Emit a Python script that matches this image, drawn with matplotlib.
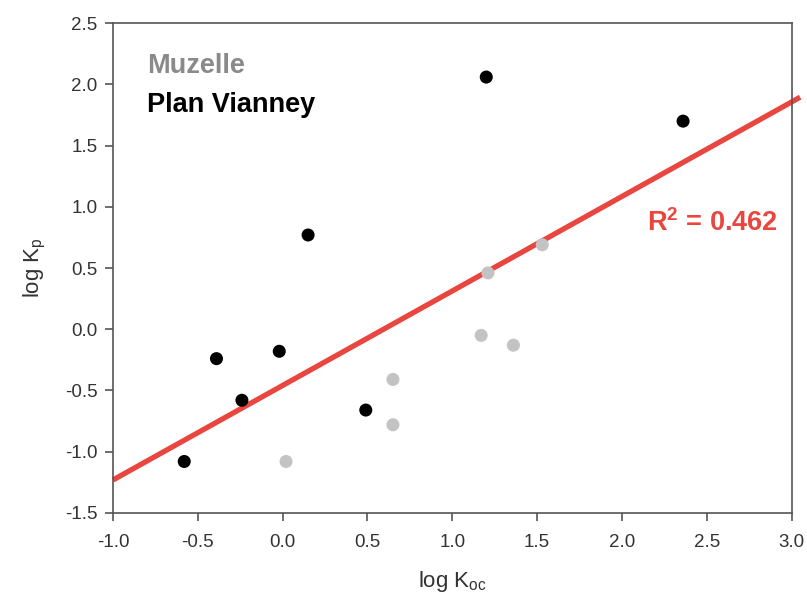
import numpy as np
import matplotlib.pyplot as plt

plt.rcParams['font.family'] = ['Liberation Sans', 'DejaVu Sans']

# Plan Vianney (black)
pv_koc = [-0.58, -0.39, -0.24, -0.02, 0.15, 0.49, 1.20, 2.36]
pv_kp = [-1.08, -0.24, -0.58, -0.18, 0.77, -0.66, 2.06, 1.70]

# Muzelle (grey)
mu_koc = [0.02, 0.65, 0.65, 1.17, 1.21, 1.36, 1.53]
mu_kp = [-1.08, -0.41, -0.78, -0.05, 0.46, -0.13, 0.69]

# regression line
slope, intercept = 0.772, -0.459
r2 = 0.462

xticks = [-1.0, -0.5, 0.0, 0.5, 1.0, 1.5, 2.0, 2.5, 3.0]
yticks = [-1.5, -1.0, -0.5, 0.0, 0.5, 1.0, 1.5, 2.0, 2.5]

fig = plt.figure(figsize=(8.07, 5.95), dpi=100)
ax = fig.add_axes([0.140, 0.138, 0.841, 0.823])

xl = np.array([-1.0, 3.05])
ax.plot(xl, slope * xl + intercept, color="#e8463f", linewidth=3.8,
        solid_capstyle="butt", clip_on=False, zorder=2)

ax.scatter(mu_koc, mu_kp, s=88, color="#c3c3c3", edgecolors="none", zorder=3)
ax.scatter(pv_koc, pv_kp, s=88, color="black", edgecolors="none", zorder=3)

ax.set_xlim(-1.0, 3.0)
ax.set_ylim(-1.5, 2.5)
ax.set_xticks(xticks)
ax.set_yticks(yticks)
ax.set_xticklabels([f"{t:.1f}" for t in xticks])
ax.set_yticklabels([f"{t:.1f}" for t in yticks])

for s in ax.spines.values():
    s.set_color("#555555")
    s.set_linewidth(1.2)
ax.tick_params(direction="out", length=6, width=1.2, color="#555555",
               labelsize=13.5, labelcolor="#333333")
ax.tick_params(axis="x", pad=9)
ax.tick_params(axis="y", pad=5)

ax.set_xlabel("log K$_{\\mathregular{oc}}$", fontsize=16, color="#333333", labelpad=13)
ax.set_ylabel("log K$_{\\mathregular{p}}$", fontsize=16, color="#333333", labelpad=12)

ax.text(-0.80, 2.15, "Muzelle", fontsize=19.5, fontweight="bold", color="#8a8a8a",
        va="center", ha="left")
ax.text(-0.80, 1.835, "Plan Vianney", fontsize=19.5, fontweight="bold", color="black",
        va="center", ha="left")
ax.text(2.145, 0.87, "R$^{\\mathregular{2}}$ = %.3f" % r2, fontsize=19.5, fontweight="bold",
        color="#e8463f", va="center", ha="left")

fig.savefig("out.png", dpi=100)
